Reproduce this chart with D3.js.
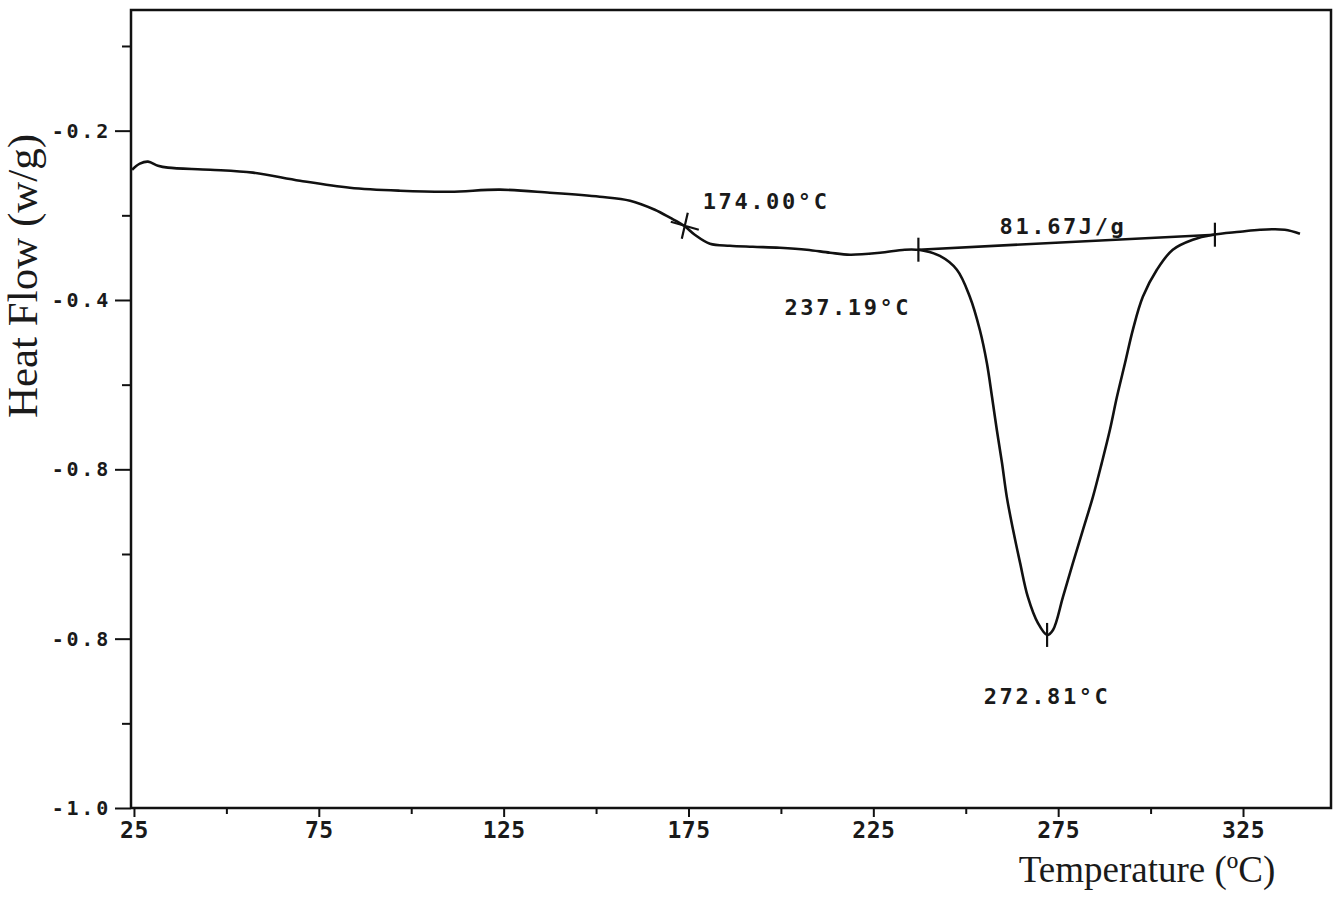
<!DOCTYPE html>
<html>
<head>
<meta charset="utf-8">
<script src="https://cdn.jsdelivr.net/npm/d3@7"></script>
<style>
  body { margin: 0; background: #fff; }
  svg { display: block; }
  .tick text { font-family: "DejaVu Sans Mono", monospace; font-weight: bold; fill: #1a1a1a; }
  .tick line { stroke: #111; stroke-width: 2; }
  .note { font-family: "DejaVu Sans Mono", monospace; font-weight: bold; font-size: 22px; fill: #1a1a1a; letter-spacing: 2.6px; }
  .title { font-family: "Liberation Serif", "Times New Roman", serif; fill: #1a1a1a; }
</style>
</head>
<body>
<svg id="chart" width="1343" height="899"></svg>
<script>
// DSC trace, temperature (°C) vs heat flow (W/g)
var temps = [24.5, 26.6, 28.8, 31.5, 34.2, 45.6, 57.2, 69.9, 83.4, 97.0, 110.5, 124.0, 137.5, 151.0,
  159.2, 165.9, 170.0, 173.8, 176.7, 180.8, 186.2, 192.4, 199.7, 207.0, 213.3, 218.7, 226.8, 233.5,
  237.6, 243.0, 247.6, 251.1, 253.8, 255.7, 257.1, 258.4, 259.8, 261.1, 262.8, 264.7, 266.8, 269.5, 272.0,
  273.6, 276.3, 279.0, 281.7, 284.4, 286.8, 289.0, 290.9, 293.1, 295.2, 297.9, 301.7, 306.0, 311.4,
  316.9, 324.2, 329.6, 336.3, 340.4];
var heatFlow = [-0.2461, -0.2390, -0.2366, -0.2414, -0.2437, -0.2461, -0.2496, -0.2591, -0.2674, -0.2709, -0.2721, -0.2697, -0.2733, -0.2780,
  -0.2827, -0.2934, -0.3028, -0.3123, -0.3229, -0.3335, -0.3359, -0.3371, -0.3383, -0.3406, -0.3442, -0.3465, -0.3442, -0.3406,
  -0.3410, -0.3480, -0.3643, -0.3962, -0.4352, -0.4742, -0.5143, -0.5533, -0.5923, -0.6325, -0.6715, -0.7105, -0.7507, -0.7814, -0.7956,
  -0.7897, -0.7507, -0.7105, -0.6715, -0.6325, -0.5923, -0.5533, -0.5143, -0.4742, -0.4352, -0.3962, -0.3643, -0.3406, -0.3288,
  -0.3229, -0.3194, -0.3170, -0.3170, -0.3217];

var xTicks = [25, 75, 125, 175, 225, 275, 325];
var xMinor = [50, 100, 150, 200, 250, 300];
var yTicks = [-0.2, -0.4, -0.6, -0.8, -1.0];
var yTickLabels = ['-0.2', '-0.4', '-0.8', '-0.8', '-1.0'];   // as printed on the scan
var yMinor = [-0.1, -0.3, -0.5, -0.7, -0.9];

// integration baseline and marked points
var baseStart = {t: 237.19, v: -0.3406};
var baseEnd = {t: 317.4, v: -0.3229};
var onset = {t: 174.0, v: -0.3123};
var peak = {t: 272.0, v: -0.7956};

var noteText = ['174.00°C', '237.19°C', '81.67J/g', '272.81°C'];
var noteT = [196.0, 218.1, 276.3, 272.0];
var noteV = [-0.2839, -0.4092, -0.3134, -0.8688];

var
  margin = {top: 10, right: 12, bottom: 91, left: 131},
  W = 1343, H = 899,
  svg = d3.select('#chart'),
  xScale = d3.scaleLinear().domain([24.2, 348.8]).range([margin.left, W - margin.right]),
  yScale = d3.scaleLinear().domain([-1.0, -0.0575]).range([H - margin.bottom, margin.top]);

var data = temps.map((t, i) => ({t: t, v: heatFlow[i]}));
var x0 = margin.left, x1 = W - margin.right, y0 = yScale(-1.0), y1 = margin.top;

// axes
svg.append('g')
  .attr('transform', 'translate(' + x0 + ',0)')
  .call(d3.axisLeft(yScale).tickValues(yMinor).tickSize(9).tickFormat(''))
  .select('.domain').remove();

var gy = svg.append('g')
  .attr('transform', 'translate(' + x0 + ',0)')
  .call(d3.axisLeft(yScale).tickValues(yTicks).tickSize(16).tickPadding(4)
    .tickFormat((d, i) => yTickLabels[i]));
gy.select('.domain').remove();
gy.selectAll('.tick text').style('font-size', '20px').style('letter-spacing', '2.8px');

svg.append('g')
  .attr('transform', 'translate(0,' + y0 + ')')
  .call(d3.axisBottom(xScale).tickValues(xMinor).tickSize(6).tickFormat(''))
  .select('.domain').remove();

var gx = svg.append('g')
  .attr('transform', 'translate(0,' + y0 + ')')
  .call(d3.axisBottom(xScale).tickValues(xTicks).tickSize(9).tickPadding(5).tickFormat(d3.format('d')));
gx.select('.domain').remove();
gx.selectAll('.tick text').style('font-size', '23px').style('letter-spacing', '0.5px');

// frame
svg.append('path')
  .attr('d', 'M' + x0 + ',' + y0 + 'V' + y1 + 'H' + x1 + 'V' + y0 + 'H' + x0)
  .attr('fill', 'none')
  .attr('stroke', '#111')
  .attr('stroke-width', 2.5);

// curve
var line = d3.line().curve(d3.curveCatmullRom.alpha(0.5))
  .x(d => xScale(d.t))
  .y(d => yScale(d.v));

svg.append('path')
  .datum(data)
  .attr('d', line)
  .attr('fill', 'none')
  .attr('stroke', '#111')
  .attr('stroke-width', 2.6)
  .attr('stroke-linejoin', 'round');

// baseline for peak integration
svg.append('line')
  .attr('x1', xScale(baseStart.t)).attr('y1', yScale(baseStart.v))
  .attr('x2', xScale(baseEnd.t)).attr('y2', yScale(baseEnd.v))
  .attr('stroke', '#111').attr('stroke-width', 2.6);

// vertical markers
[baseStart, baseEnd, peak].forEach(p => {
  svg.append('line')
    .attr('x1', xScale(p.t)).attr('x2', xScale(p.t))
    .attr('y1', yScale(p.v) - 12).attr('y2', yScale(p.v) + 12)
    .attr('stroke', '#111').attr('stroke-width', 2.2);
});

// onset cross
var ox = xScale(onset.t), oy = yScale(onset.v);
svg.append('path')
  .attr('d', 'M' + (ox - 14) + ',' + (oy - 4) + 'L' + (ox + 14) + ',' + (oy + 4) +
    'M' + (ox + 3) + ',' + (oy - 13) + 'L' + (ox - 3) + ',' + (oy + 13))
  .attr('stroke', '#111').attr('stroke-width', 2.2);

// annotations
svg.selectAll('.note')
  .data(noteText)
  .enter().append('text')
  .attr('class', 'note')
  .attr('x', (d, i) => xScale(noteT[i]))
  .attr('y', (d, i) => yScale(noteV[i]))
  .attr('text-anchor', 'middle')
  .attr('dominant-baseline', 'central')
  .text(d => d);

// axis titles
svg.append('text')
  .attr('class', 'title')
  .attr('transform', 'translate(37,276) rotate(-90)')
  .attr('text-anchor', 'middle')
  .style('font-size', '43px')
  .text('Heat Flow (w/g)');

svg.append('text')
  .attr('class', 'title')
  .attr('x', 1147).attr('y', 882)
  .attr('text-anchor', 'middle')
  .style('font-size', '37px')
  .text('Temperature (ºC)');
</script>
</body>
</html>
